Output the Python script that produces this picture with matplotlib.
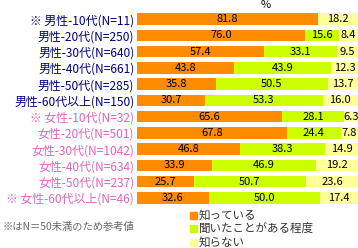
import matplotlib
matplotlib.use("Agg")
import matplotlib.pyplot as plt
from matplotlib.patches import Rectangle

plt.rcParams['font.family'] = ['Noto Sans CJK JP', 'DejaVu Sans']

categories = ["※ 男性-10代(N=11)", "男性-20代(N=250)", "男性-30代(N=640)", "男性-40代(N=661)",
              "男性-50代(N=285)", "男性-60代以上(N=150)", "※ 女性-10代(N=32)", "女性-20代(N=501)",
              "女性-30代(N=1042)", "女性-40代(N=634)", "女性-50代(N=237)", "※ 女性-60代以上(N=46)"]
know = [81.8, 76.0, 57.4, 43.8, 35.8, 30.7, 65.6, 67.8, 46.8, 33.9, 25.7, 32.6]
heard = [0.0, 15.6, 33.1, 43.9, 50.5, 53.3, 28.1, 24.4, 38.3, 46.9, 50.7, 50.0]
unknown = [18.2, 8.4, 9.5, 12.3, 13.7, 16.0, 6.3, 7.8, 14.9, 19.2, 23.6, 17.4]
series_names = ["知っている", "聞いたことがある程度", "知らない"]
colors = ["#FF8C00", "#CCFF00", "#FFFF99"]
label_colors = ["#000080"] * 6 + ["#E066B8"] * 6

W, H = 358, 248
fig = plt.figure(figsize=(W / 100, H / 100), dpi=100)
ax = fig.add_axes([137 / W, 1 - 206 / H, 221 / W, (206 - 11) / H])

series = [know, heard, unknown]
y = list(range(len(categories)))
left = [0.0] * len(categories)
for vals, col in zip(series, colors):
    ax.barh(y, vals, left=left, height=0.7, color=col, edgecolor='none')
    for i, v in enumerate(vals):
        if v > 0:
            ax.text(left[i] + v / 2, i, f"{v:.1f}", ha='center', va='center',
                    fontsize=8, color='black')
    left = [l + v for l, v in zip(left, vals)]

ax.set_xlim(0, 100)
ax.set_ylim(len(categories) - 0.5, -0.5)
ax.set_yticks(y)
ax.set_yticklabels(categories, fontsize=8.6)
for t, c in zip(ax.get_yticklabels(), label_colors):
    t.set_color(c)
ax.tick_params(axis='y', length=0, pad=2)
ax.set_xticks([])
for s in ax.spines.values():
    s.set_visible(False)

fig.text(266 / W, 1 - 5 / H, "%", ha='center', va='center', fontsize=8)

# legend
for k, (name, col) in enumerate(zip(series_names, colors)):
    yc = 215 + k * 13.5
    fig.patches.append(Rectangle((190 / W, 1 - (yc + 3.5) / H), 7 / W, 7 / H,
                                 transform=fig.transFigure, color=col))
    fig.text(199 / W, 1 - yc / H, name, ha='left', va='center', fontsize=8.3, color='#333333')

fig.text(3 / W, 1 - 227 / H, "※はN＝50未満のため参考値", ha='left', va='center',
         fontsize=7.4, color='#666666')

fig.savefig("out.png", dpi=100)
